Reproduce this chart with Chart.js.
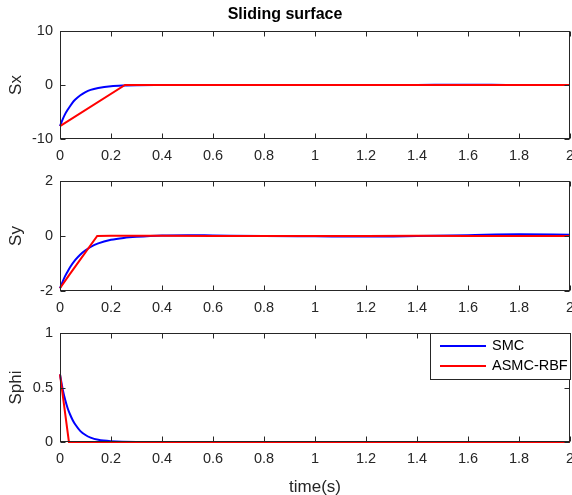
<!DOCTYPE html>
<html>
<head>
<meta charset="utf-8">
<script src="https://cdn.jsdelivr.net/npm/chart.js@4/dist/chart.umd.min.js"></script>
<style>
  html, body { margin: 0; padding: 0; background: #fff; overflow: hidden; width: 572px; height: 495px; }
  canvas { position: absolute; left: 0; }
</style>
</head>
<body>
<canvas id="c1" width="600" height="165" style="top:0px"></canvas>
<canvas id="c2" width="600" height="152" style="top:165px"></canvas>
<canvas id="c3" width="600" height="181" style="top:317px"></canvas>
<script>
// Sx
const tSxSmc = [0, 0.01, 0.02, 0.03, 0.04, 0.05, 0.06, 0.08, 0.1, 0.12, 0.15, 0.2, 0.25, 0.3, 0.4, 0.6, 1.0, 1.4, 1.6, 1.75, 2.0];
const sxSmc  = [-7.6, -6.4, -5.4, -4.6, -3.9, -3.2, -2.7, -1.9, -1.3, -0.9, -0.55, -0.22, -0.09, -0.04, -0.02, 0, 0, 0.02, 0.04, 0.02, 0];
const tSxAsmc = [0, 0.255, 2.0];
const sxAsmc  = [-7.6, 0, 0];

// Sy
const tSySmc = [0, 0.01, 0.02, 0.03, 0.04, 0.06, 0.08, 0.1, 0.12, 0.15, 0.2, 0.25, 0.3, 0.4, 0.5, 0.6, 0.8, 1.0, 1.2, 1.4, 1.6, 1.8, 2.0];
const sySmc  = [-1.9, -1.67, -1.46, -1.29, -1.13, -0.87, -0.67, -0.52, -0.4, -0.27, -0.14, -0.07, -0.03, 0.02, 0.03, 0.02, 0, -0.01, -0.02, 0, 0.03, 0.06, 0.05];
const tSyAsmc = [0, 0.035, 0.146, 0.2, 0.4, 0.6, 0.8, 1.0, 1.2, 1.4, 1.6, 1.8, 2.0];
const syAsmc  = [-1.9, -1.43, 0, 0.01, 0.01, 0, 0, 0, 0, 0.01, 0, 0, 0];

// Sphi
const tSphiSmc = [0, 0.01, 0.02, 0.03, 0.04, 0.05, 0.06, 0.08, 0.1, 0.12, 0.15, 0.2, 0.3, 2.0];
const sphiSmc  = [0.62, 0.49, 0.39, 0.31, 0.25, 0.2, 0.16, 0.1, 0.064, 0.04, 0.02, 0.007, 0.001, 0];
const tSphiAsmc = [0, 0.035, 2.0];
const sphiAsmc  = [0.62, 0, 0];

const seriesNames = ['SMC', 'ASMC-RBF'];
const xTicks = [0, 0.2, 0.4, 0.6, 0.8, 1, 1.2, 1.4, 1.6, 1.8, 2];

const FONT = "'Liberation Sans', Arial, sans-serif";
const AXIS_COLOR = '#262626';
const BLUE = '#0000ff';
const RED = '#ff0000';

function pts(t, v) {
    return t.map((x, i) => ({ x: x, y: v[i] }));
}

// box with inward ticks on all four sides, like the original
const boxPlugin = {
    id: 'box',
    afterDraw(chart) {
        const { ctx, chartArea: a, scales } = chart;
        const L = Math.round(a.left) + 0.5, R = Math.round(a.right) - 0.5;
        const T = Math.round(a.top) + 0.5, B = Math.round(a.bottom) - 0.5;
        ctx.save();
        ctx.strokeStyle = AXIS_COLOR;
        ctx.lineWidth = 1;
        ctx.beginPath();
        scales.x.ticks.forEach(t => {
            const px = Math.round(scales.x.getPixelForValue(t.value)) + 0.5;
            ctx.moveTo(px, B); ctx.lineTo(px, B - 5);
            ctx.moveTo(px, T); ctx.lineTo(px, T + 5);
        });
        scales.y.ticks.forEach(t => {
            const py = Math.round(scales.y.getPixelForValue(t.value)) + 0.5;
            ctx.moveTo(L, py); ctx.lineTo(L + 5, py);
            ctx.moveTo(R, py); ctx.lineTo(R - 5, py);
        });
        ctx.stroke();
        ctx.strokeRect(L, T, R - L, B - T);
        ctx.restore();
    }
};

// legend box inside the bottom axes
const legendPlugin = {
    id: 'boxLegend',
    afterDraw(chart) {
        if (!chart.options.plugins.boxLegend || !chart.options.plugins.boxLegend.show) return;
        const ctx = chart.ctx;
        const x0 = 430.5, y0 = 16.5, w = 140, h = 46;
        ctx.save();
        ctx.fillStyle = '#fff';
        ctx.fillRect(x0, y0, w, h);
        ctx.strokeStyle = AXIS_COLOR;
        ctx.lineWidth = 1;
        ctx.strokeRect(x0, y0, w, h);
        const colors = [BLUE, RED];
        const ys = [29, 49];
        ctx.font = '14.5px ' + FONT;
        ctx.textBaseline = 'middle';
        seriesNames.forEach((name, i) => {
            ctx.strokeStyle = colors[i];
            ctx.lineWidth = 2;
            ctx.beginPath();
            ctx.moveTo(440, ys[i]);
            ctx.lineTo(486, ys[i]);
            ctx.stroke();
            ctx.fillStyle = '#000';
            ctx.fillText(name, 492, ys[i]);
        });
        ctx.restore();
    }
};

function fmt(v) {
    return String(Math.round(v * 10) / 10);
}

function makeChart(id, opts) {
    const ctx = document.getElementById(id).getContext('2d');
    return new Chart(ctx, {
        type: 'line',
        data: {
            datasets: [
                {
                    label: seriesNames[1],
                    data: opts.red,
                    borderColor: RED,
                    borderWidth: 2,
                    pointRadius: 0,
                    tension: 0,
                    clip: 4,
                    order: 0
                },
                {
                    label: seriesNames[0],
                    data: opts.blue,
                    borderColor: BLUE,
                    borderWidth: 2,
                    pointRadius: 0,
                    cubicInterpolationMode: 'monotone',
                    clip: 4,
                    order: 1
                }
            ]
        },
        options: {
            responsive: false,
            animation: false,
            events: [],
            layout: { padding: { left: 0, right: 30, top: opts.padTop, bottom: 0 } },
            plugins: {
                legend: { display: false },
                tooltip: { enabled: false },
                title: opts.title ? {
                    display: true,
                    text: opts.title,
                    color: '#000',
                    font: { family: FONT, size: 16, weight: 'bold', lineHeight: 1.125 },
                    padding: { top: 6, bottom: 7 }
                } : { display: false },
                boxLegend: { show: !!opts.legend }
            },
            scales: {
                x: {
                    type: 'linear',
                    min: 0,
                    max: 2,
                    afterBuildTicks: axis => { axis.ticks = xTicks.map(v => ({ value: v })); },
                    afterFit: axis => { axis.height = opts.xHeight; },
                    grid: { display: false, drawTicks: false },
                    border: { display: false },
                    ticks: {
                        color: AXIS_COLOR,
                        font: { family: FONT, size: 14.5 },
                        padding: 8,
                        maxRotation: 0,
                        autoSkip: false,
                        callback: v => fmt(v)
                    },
                    title: opts.xTitle ? {
                        display: true,
                        text: opts.xTitle,
                        color: AXIS_COLOR,
                        font: { family: FONT, size: 17 },
                        padding: { top: 0, bottom: 0 }
                    } : { display: false }
                },
                y: {
                    type: 'linear',
                    min: opts.yMin,
                    max: opts.yMax,
                    afterBuildTicks: axis => { axis.ticks = opts.yTicks.map(v => ({ value: v })); },
                    afterFit: axis => { axis.width = 60; },
                    grid: { display: false, drawTicks: false },
                    border: { display: false },
                    ticks: {
                        color: AXIS_COLOR,
                        font: { family: FONT, size: 14.5 },
                        padding: 7,
                        callback: v => fmt(v)
                    },
                    title: {
                        display: true,
                        text: opts.yTitle,
                        color: AXIS_COLOR,
                        font: { family: FONT, size: 17 },
                        padding: { top: 6, bottom: 0 }
                    }
                }
            }
        },
        plugins: [boxPlugin, legendPlugin]
    });
}

makeChart('c1', {
    title: 'Sliding surface',
    padTop: 0,
    xHeight: 26,
    yTitle: 'Sx',
    yMin: -10, yMax: 10, yTicks: [-10, 0, 10],
    blue: pts(tSxSmc, sxSmc),
    red: pts(tSxAsmc, sxAsmc)
});

makeChart('c2', {
    padTop: 16,
    xHeight: 26,
    yTitle: 'Sy',
    yMin: -2, yMax: 2, yTicks: [-2, 0, 2],
    blue: pts(tSySmc, sySmc),
    red: pts(tSyAsmc, syAsmc)
});

makeChart('c3', {
    padTop: 16,
    xHeight: 56,
    xTitle: 'time(s)',
    yTitle: 'Sphi',
    yMin: 0, yMax: 1, yTicks: [0, 0.5, 1],
    legend: true,
    blue: pts(tSphiSmc, sphiSmc),
    red: pts(tSphiAsmc, sphiAsmc)
});
</script>
</body>
</html>
